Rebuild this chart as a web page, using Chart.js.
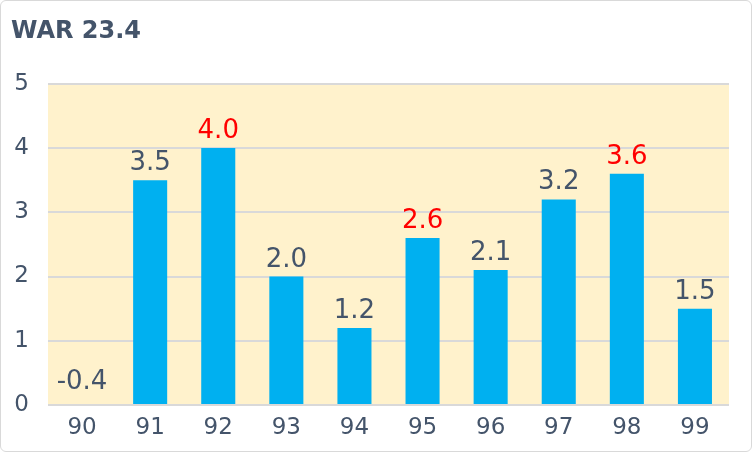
<!DOCTYPE html>
<html>
<head>
<meta charset="utf-8">
<script src="https://cdn.jsdelivr.net/npm/chart.js@4.4.1/dist/chart.umd.min.js"></script>
<style>
  html, body { margin: 0; padding: 0; background: #fff; }
  #wrap { width: 750px; height: 450px; border: 1px solid #d9d9d9; border-radius: 6px; overflow: hidden; }
</style>
</head>
<body>
<div id="wrap"><canvas id="chart" width="750" height="450"></canvas></div>
<script>
// data
const seasons = ['90', '91', '92', '93', '94', '95', '96', '97', '98', '99'];
const war = [-0.4, 3.5, 4.0, 2.0, 1.2, 2.6, 2.1, 3.2, 3.6, 1.5];
const labelColors = ['#44546a', '#44546a', '#ff0000', '#44546a', '#44546a', '#ff0000', '#44546a', '#44546a', '#ff0000', '#44546a'];
const totalWar = '23.4';

const textColor = '#44546a';
const fontFamily = "'DejaVu Sans', 'Noto Sans', sans-serif";

// yellow plot background
const plotBg = {
  id: 'plotBg',
  beforeDraw(chart) {
    const a = chart.chartArea, ctx = chart.ctx;
    ctx.save();
    ctx.fillStyle = '#fff2cc';
    ctx.fillRect(a.left, a.top, a.right - a.left, a.bottom - a.top);
    ctx.restore();
  }
};

// value labels over the bars
const valueLabels = {
  id: 'valueLabels',
  afterDatasetsDraw(chart) {
    const ctx = chart.ctx;
    const meta = chart.getDatasetMeta(0);
    const y = chart.scales.y;
    ctx.save();
    ctx.font = '26px ' + fontFamily;
    ctx.textAlign = 'center';
    ctx.textBaseline = 'alphabetic';
    meta.data.forEach((bar, i) => {
      const v = war[i];
      const top = y.getPixelForValue(Math.max(v, 0));
      ctx.fillStyle = labelColors[i];
      ctx.fillText(v.toFixed(1), bar.x, top - (v < 0 ? 16 : 10));
    });
    ctx.restore();
  }
};

new Chart(document.getElementById('chart'), {
  type: 'bar',
  data: {
    labels: seasons,
    datasets: [{
      data: war,
      backgroundColor: '#00b0f0',
      categoryPercentage: 1,
      barPercentage: 0.5
    }]
  },
  options: {
    responsive: false,
    animation: false,
    layout: { padding: { left: 10, right: 22, top: 0, bottom: 0 } },
    plugins: {
      legend: { display: false },
      tooltip: { enabled: false },
      title: {
        display: true,
        text: 'WAR ' + totalWar,
        align: 'start',
        color: textColor,
        font: { family: fontFamily, size: 24, weight: 'bold' },
        padding: { top: 16, bottom: 38 }
      }
    },
    scales: {
      x: {
        grid: { display: false },
        border: { display: false },
        ticks: { color: textColor, font: { family: fontFamily, size: 23 }, padding: 1 },
        afterFit(s) { s.height = 46; }
      },
      y: {
        min: 0,
        max: 5,
        ticks: { stepSize: 1, color: textColor, font: { family: fontFamily, size: 23 }, padding: 19 },
        grid: { color: '#d9d9d9', lineWidth: 2, drawTicks: false },
        border: { display: false },
        afterFit(s) { s.width = 37; }
      }
    }
  },
  plugins: [plotBg, valueLabels]
});
</script>
</body>
</html>
